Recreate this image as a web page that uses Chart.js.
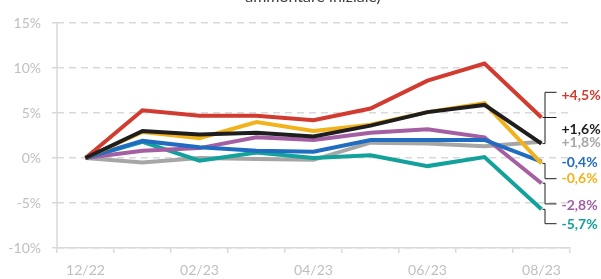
<!DOCTYPE html>
<html>
<head>
<meta charset="utf-8">
<script src="https://cdn.jsdelivr.net/npm/chart.js@4/dist/chart.umd.min.js"></script>
<style>
  html, body { margin: 0; padding: 0; background: #fff; }
  #wrap { width: 601px; height: 279px; }
</style>
</head>
<body>
<div id="wrap"><canvas id="lineChart" width="601" height="279"></canvas></div>
<script>
// categories (months)
var months = ['12/22', '01/23', '02/23', '03/23', '04/23', '05/23', '06/23', '07/23', '08/23'];

// series values, % change vs. start
var black  = [0, 3.0, 2.6, 2.8, 2.4, 3.6, 5.1, 5.9, 1.6];
var red    = [0, 5.3, 4.7, 4.7, 4.2, 5.5, 8.6, 10.5, 4.5];
var yellow = [0, 2.9, 2.2, 4.0, 3.0, 3.7, 5.1, 6.1, -0.6];
var blue   = [0, 1.9, 1.2, 0.8, 0.7, 2.0, 2.0, 2.0, -0.4];
var purple = [0, 0.8, 1.1, 2.3, 2.0, 2.8, 3.2, 2.3, -2.8];
var teal   = [0, 1.8, -0.3, 0.6, 0.0, 0.3, -0.9, 0.1, -5.7];
var grey   = [0, -0.5, 0.0, -0.1, -0.2, 1.7, 1.6, 1.3, 1.8];

var yTicks = [-10, -5, 0, 5, 10, 15];

// end labels
var endLabels = ['+1,6%', '+4,5%', '-0,6%', '-0,4%', '-2,8%', '-5,7%', '+1,8%'];
var labelAt   = [3.2, 7.0, -2.3, -0.55, -5.3, -7.4, 1.7];
var bracketAt = [4.5, 7.3, -2.3, null, -5.1, -7.3, null];

var colors = ['#1e1e1e', '#d13b30', '#f2b21b', '#1f6cc0', '#a45fa3', '#13a19b', '#a6a6a6'];
var series = [black, red, yellow, blue, purple, teal, grey];

var datasets = series.map(function (s, i) {
	return {
		label: 'Serie ' + (i + 1),
		data: s,
		borderColor: colors[i],
		backgroundColor: colors[i],
		borderWidth: 4,
		pointRadius: 0,
		tension: 0,
		fill: false
	};
});

var FONT = 'Lato, "Open Sans", sans-serif';

// solid y axis line (grid lines are dashed)
var axisLinePlugin = {
	id: 'axisLine',
	beforeDatasetsDraw: function (chart) {
		var ctx = chart.ctx, a = chart.chartArea;
		ctx.save();
		ctx.strokeStyle = '#d9d9d9';
		ctx.lineWidth = 1.5;
		ctx.beginPath();
		ctx.moveTo(a.left, a.top);
		ctx.lineTo(a.left, a.bottom);
		ctx.stroke();
		ctx.restore();
	}
};

// draws the cut-off subtitle and the labels at the line ends
var endLabelPlugin = {
	id: 'endLabels',
	afterDatasetsDraw: function (chart) {
		var ctx = chart.ctx;
		var x = chart.scales.x, y = chart.scales.y;
		var last = months.length - 1;
		var px = x.getPixelForValue(last);

		ctx.save();
		ctx.font = '16px ' + FONT;
		ctx.fillStyle = '#404040';
		ctx.textAlign = 'center';
		ctx.textBaseline = 'alphabetic';
		ctx.fillText('ammontare iniziale)', 313, 2);

		ctx.lineWidth = 1;
		ctx.strokeStyle = '#1e1e1e';
		series.forEach(function (s, i) {
			var py = y.getPixelForValue(s[last]);
			if (bracketAt[i] !== null) {
				var by = y.getPixelForValue(bracketAt[i]);
				ctx.beginPath();
				ctx.moveTo(px + 1, py);
				ctx.lineTo(px + 3.5, py);
				ctx.lineTo(px + 3.5, by);
				ctx.lineTo(px + 15, by);
				ctx.stroke();
			}
			ctx.font = 'bold 14px ' + FONT;
			ctx.fillStyle = colors[i];
			ctx.textAlign = 'left';
			ctx.textBaseline = 'middle';
			ctx.fillText(endLabels[i], px + 20, y.getPixelForValue(labelAt[i]));
		});
		ctx.restore();
	}
};

var ctx = document.getElementById('lineChart').getContext('2d');
var chart = new Chart(ctx, {
	type: 'line',
	data: {
		labels: months,
		datasets: datasets
	},
	options: {
		responsive: false,
		animation: false,
		layout: { padding: { top: 23, right: 31, left: 0, bottom: 0 } },
		plugins: {
			legend: { display: false },
			tooltip: { enabled: false },
			title: { display: false }
		},
		scales: {
			x: {
				type: 'category',
				offset: true,
				grid: {
					offset: true,
					drawOnChartArea: false,
					drawTicks: true,
					tickLength: 5,
					color: '#d9d9d9',
					lineWidth: 1.5
				},
				border: { color: '#d9d9d9', width: 1.5 },
				ticks: {
					autoSkip: false,
					maxRotation: 0,
					padding: 9,
					color: '#bfbfbf',
					font: { family: FONT, size: 14 },
					callback: function (v, i) { return i % 2 === 0 ? months[i] : ''; }
				},
				afterFit: function (scale) { scale.height = 31; }
			},
			y: {
				min: yTicks[0],
				max: yTicks[yTicks.length - 1],
				afterBuildTicks: function (scale) {
					scale.ticks = yTicks.map(function (v) { return { value: v }; });
				},
				grid: {
					color: '#d9d9d9',
					lineWidth: 1.5,
					tickLength: 5,
					tickBorderDash: [0, 0]
				},
				border: { display: false, dash: [7, 5] },
				ticks: {
					padding: 11,
					color: '#bfbfbf',
					font: { family: FONT, size: 14 },
					callback: function (v) { return v + '%'; }
				},
				afterFit: function (scale) { scale.width = 57; }
			}
		}
	},
	plugins: [axisLinePlugin, endLabelPlugin]
});
</script>
</body>
</html>
